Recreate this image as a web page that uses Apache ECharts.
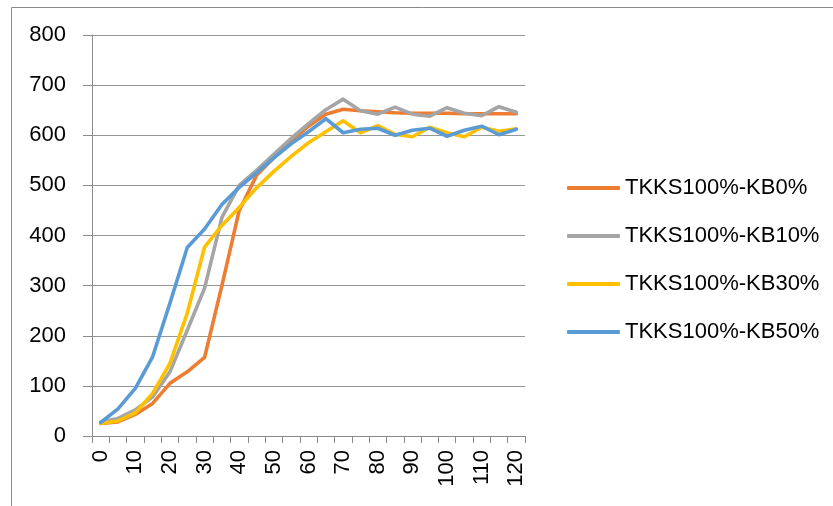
<!DOCTYPE html>
<html>
<head>
<meta charset="utf-8">
<script src="https://cdn.jsdelivr.net/npm/echarts@6/dist/echarts.min.js"></script>
<style>
html,body{margin:0;padding:0;background:#fff;}
#c{width:833px;height:506px;}
</style>
</head>
<body>
<div id="c"></div>
<script>
var categories = ['0','5','10','15','20','25','30','35','40','45','50','55','60','65','70','75','80','85','90','95','100','105','110','115','120'];
var seriesNames = ['TKKS100%-KB0%','TKKS100%-KB10%','TKKS100%-KB30%','TKKS100%-KB50%'];
var kb0  = [25,28,43,65,105,128,157,300,450,520,555,588,618,642,652,649,647,645,644,644,644,643,643,643,643];
var kb10 = [28,35,52,78,128,211,295,436,500,530,562,594,623,651,672,649,642,656,642,638,655,644,639,657,646];
var kb30 = [25,30,46,85,145,245,377,420,456,495,528,558,585,607,629,605,619,602,597,616,605,597,616,608,613];
var kb50 = [27,54,95,158,265,376,413,462,496,525,555,583,607,633,605,612,614,600,610,614,598,610,618,601,612];
var yMin = 0, yMax = 800, yStep = 100;

var colors = ['#ED7D31','#A5A5A5','#FFC000','#5B9BD5'];
var dataSets = [kb0, kb10, kb30, kb50];
var FONT = 'Liberation Sans';

var chart = echarts.init(document.getElementById('c'), null, {renderer:'canvas'});
chart.setOption({
  animation: false,
  backgroundColor: '#fff',
  textStyle: {fontFamily: FONT},
  graphic: [{
    type: 'rect', left: 9, top: 5, silent: true,
    shape: {x: 0, y: 0, width: 1000, height: 1000},
    style: {fill: 'none', stroke: '#8a8a8a', lineWidth: 1}
  }],
  grid: {left: 92, right: 308, top: 35, bottom: 70, containLabel: false},
  legend: {
    orient: 'vertical',
    left: 567, top: 175, padding: 0,
    icon: 'roundRect',
    itemWidth: 53, itemHeight: 4, itemGap: 22,
    data: seriesNames,
    textStyle: {fontFamily: FONT, fontSize: 22, color: '#000', lineHeight: 26}
  },
  xAxis: {
    type: 'category',
    data: categories,
    boundaryGap: true,
    axisLine: {show: true, lineStyle: {color: '#8a8a8a', width: 1}},
    axisTick: {show: true, interval: 0, length: 7, lineStyle: {color: '#8a8a8a'}},
    axisLabel: {interval: 1, rotate: 90, margin: 14, fontFamily: FONT, fontSize: 22, color: '#000'},
    splitLine: {show: false}
  },
  yAxis: {
    type: 'value',
    min: yMin, max: yMax, interval: yStep,
    axisLine: {show: true, lineStyle: {color: '#8a8a8a', width: 1}},
    axisTick: {show: true, length: 9, lineStyle: {color: '#8a8a8a'}},
    axisLabel: {margin: 26, fontFamily: FONT, fontSize: 22, color: '#000'},
    splitLine: {show: true, lineStyle: {color: '#969696', width: 1.2}}
  },
  series: seriesNames.map(function(n, i){
    return {
      name: n, type: 'line', data: dataSets[i],
      symbol: 'none', smooth: false,
      lineStyle: {color: colors[i], width: 3.6, cap: 'round', join: 'round'},
      itemStyle: {color: colors[i]}
    };
  })
});
</script>
</body>
</html>
